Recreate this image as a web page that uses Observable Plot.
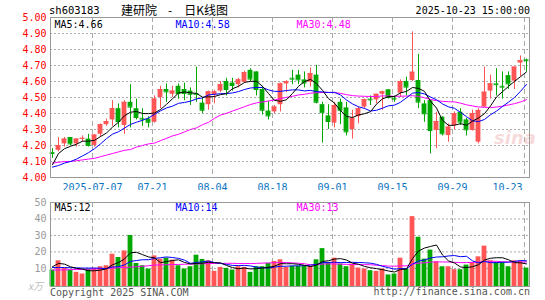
<!DOCTYPE html>
<html>
<head>
<meta charset="utf-8">
<script src="https://cdn.jsdelivr.net/npm/d3@7"></script>
<script src="https://cdn.jsdelivr.net/npm/@observablehq/plot@0.6"></script>
<style>
  body { margin: 0; background: #fff; }
  #wrap { position: relative; width: 545px; height: 300px; overflow: hidden; font-family: "DejaVu Sans Mono", monospace; }
  #main, #vol { position: absolute; left: 0; }
  #main { top: 0; }
  #vol { top: 190px; }
  .t { position: absolute; white-space: nowrap; font-size: 10px; line-height: 12px; }
  #name span { display: inline-block; }
</style>
</head>
<body>
<div id="wrap">
  <div id="main"></div>
  <div id="vol"></div>
  <div class="t" id="code" style="left:49px;top:4px;font-size:10.5px;color:#000;"></div>
  <div class="t" id="name" style="left:121px;top:3px;font-size:12px;line-height:14px;font-family:'Noto Sans CJK SC',sans-serif;color:#000;"></div>
  <div class="t" id="stamp" style="right:15px;top:5px;font-size:10px;color:#000;"></div>
  <div class="t" style="left:28px;top:280px;font-size:10px;color:#bbb;font-style:italic;font-family:'Noto Sans CJK SC',sans-serif;">x万</div>
  <div class="t" style="left:50px;top:287px;color:#555;">Copyright 2025 SINA.COM</div>
  <div class="t" style="right:15px;top:286px;color:#555;">http://finance.sina.com.cn</div>
  <div class="t" style="left:494px;top:128px;font-size:18px;line-height:20px;font-weight:bold;font-style:italic;color:rgba(225,120,120,0.28);font-family:'DejaVu Sans',sans-serif;">sina</div>
</div>
<script>
// ---------- data ----------
const stockCode = "sh603183";
const stockName = "建研院";
const chartKind = "日K线图";
const timeStamp = "2025-10-23 15:00:00";

const opens = [4.155,4.17,4.21,4.25,4.21,4.24,4.24,4.20,4.27,4.33,
4.36,4.43,4.325,4.47,4.43,4.37,4.365,4.345,4.50,4.55,
4.52,4.57,4.55,4.54,4.525,4.465,4.455,4.515,4.54,4.60,
4.59,4.58,4.595,4.67,4.66,4.55,4.415,4.41,4.455,4.585,
4.62,4.64,4.61,4.595,4.64,4.455,4.385,4.34,4.47,4.435,
4.30,4.38,4.44,4.49,4.485,4.52,4.548,4.495,4.527,4.60,
4.606,4.606,4.46,4.48,4.294,4.377,4.262,4.325,4.408,4.36,
4.294,4.221,4.44,4.54,4.585,4.57,4.637,4.602,4.715,4.735];

const highs = [4.18,4.25,4.25,4.25,4.24,4.26,4.27,4.27,4.335,4.365,
4.48,4.46,4.48,4.58,4.49,4.43,4.38,4.51,4.57,4.585,
4.57,4.585,4.59,4.56,4.69,4.50,4.54,4.545,4.60,4.62,
4.62,4.62,4.665,4.68,4.66,4.57,4.475,4.45,4.59,4.605,
4.67,4.67,4.66,4.685,4.70,4.47,4.455,4.47,4.49,4.47,
4.42,4.44,4.49,4.51,4.52,4.54,4.55,4.51,4.61,4.627,
4.91,4.77,4.48,4.48,4.408,4.38,4.335,4.41,4.43,4.37,
4.42,4.43,4.69,4.64,4.68,4.66,4.66,4.69,4.76,4.74];

const lows = [4.12,4.16,4.19,4.20,4.19,4.22,4.19,4.19,4.25,4.32,
4.32,4.31,4.27,4.31,4.36,4.32,4.31,4.34,4.43,4.47,
4.50,4.49,4.48,4.45,4.47,4.40,4.42,4.46,4.53,4.51,
4.54,4.56,4.59,4.60,4.51,4.39,4.36,4.40,4.41,4.53,
4.58,4.58,4.56,4.565,4.46,4.215,4.30,4.31,4.33,4.26,
4.24,4.335,4.43,4.45,4.46,4.42,4.49,4.47,4.50,4.51,
4.60,4.43,4.345,4.148,4.18,4.26,4.22,4.30,4.325,4.26,
4.29,4.21,4.44,4.49,4.51,4.49,4.55,4.55,4.63,4.66];

const closes = [4.15,4.20,4.24,4.21,4.24,4.245,4.20,4.265,4.33,4.35,
4.43,4.35,4.47,4.44,4.375,4.365,4.345,4.49,4.55,4.535,
4.54,4.525,4.525,4.52,4.52,4.42,4.535,4.535,4.58,4.55,
4.575,4.61,4.655,4.615,4.55,4.42,4.385,4.44,4.585,4.60,
4.615,4.61,4.59,4.65,4.47,4.405,4.35,4.45,4.42,4.285,
4.37,4.43,4.4875,4.485,4.52,4.535,4.50,4.49,4.60,4.565,
4.658,4.471,4.398,4.294,4.35,4.273,4.315,4.40,4.346,4.298,
4.40,4.419,4.533,4.585,4.58,4.565,4.585,4.69,4.73,4.73];

// volume, 万手
const volumes = [9,14.6,10,9,7.6,6.6,9.6,10,11,11.6,
18.6,16.6,20.6,30,13,11.6,9.6,17.6,15.6,16.2,
15,11.6,9.6,11,18,15.4,14.6,8.2,10.6,10,
9,11,10.6,7.6,11,11,13,14.2,15.2,10.6,
11.2,11.2,11.2,11.2,15.2,22,13.6,16.2,12.6,11,
12.6,10.2,9.6,8.6,8.2,9.6,6,6.6,16.2,9.6,
41.4,28.9,15.6,21.1,14,11,11,9.2,9.2,12,
13.6,17,23.5,14.6,13.6,13.6,11,14.6,14.2,10.2];

// moving-average values at the start of the window (history before the window)
const ma5Head = [4.08,4.15,4.18,4.195];
const ma10Head = [4.065,4.075,4.09,4.10,4.115,4.135,4.155,4.18,4.21];
const ma30Head = [4.09,4.095,4.10,4.10,4.105,4.11,4.115,4.12,4.13,4.14,4.15,4.16,4.17,4.175,4.19,4.20,4.21,4.215,4.23,4.245,4.26,4.27,4.285,4.30,4.31,4.33,4.345,4.37,4.39];
const vma5Head = [11,13,12.6,11];
const vma10Head = [10.5,10.5,10.5,10.4,10.3,10.2,10.2,10.2,10.1];
const vma30Head = [9,9,9.1,9.2,9.3,9.4,9.5,9.6,9.8,10,10.2,10.4,10.6,10.8,11,11.3,11.6,12,12.1,12.2,12.3,12.4,12.5,12.6,12.7,12.8,12.9,13,13];

// x tick labels (index of trading day)
const tickIdx = [7,17,27,37,47,57,67,79];
const tickLabels = ["2025-07-07","07-21","08-04","08-18","09-01","09-15","09-29","10-23"];
const priceTicks = [4.00,4.10,4.20,4.30,4.40,4.50,4.60,4.70,4.80,4.90,5.00];
const priceGrid = [4.10,4.20,4.30,4.40,4.50,4.60,4.70,4.80,4.90];
const volTicks = [10,20,30,40,50];
const volGrid = [10,20,30,40];

// ---------- build ----------
const RED = "#ff5555", GREEN = "#00a800";
const N = closes.length;
function ma(arr, n, head) {
  return arr.map((_, i) => i < n - 1 ? head[i] : d3.mean(arr.slice(i - n + 1, i + 1)));
}
const bars = d3.range(N).map(i => ({
  i, o: opens[i], h: highs[i], l: lows[i], c: closes[i], v: volumes[i],
  col: closes[i] >= opens[i] ? RED : GREEN
}));
const ma5 = ma(closes, 5, ma5Head), ma10 = ma(closes, 10, ma10Head), ma30 = ma(closes, 30, ma30Head);
const vma5 = ma(volumes, 5, vma5Head), vma10 = ma(volumes, 10, vma10Head), vma30 = ma(volumes, 30, vma30Head);
const trunc = (x, k) => Math.floor(x * Math.pow(10, k) + 1e-6) / Math.pow(10, k);

document.getElementById("code").textContent = stockCode;
document.getElementById("stamp").textContent = timeStamp;
const nameEl = document.getElementById("name");
[[stockName, "0"], ["-", "0 12px 0 11px"], [chartKind, "0"]].forEach(([t, m]) => {
  const s = document.createElement("span"); s.textContent = t; s.style.margin = m; nameEl.appendChild(s);
});

const xDomain = [-1/3, N - 0.5];
const ticks = tickIdx.map((d, k) => ({x: d - 1/3, label: tickLabels[k], last: k === tickIdx.length - 1}));
const lineData = (arr) => arr.map((v, i) => ({i, v}));

const common = {
  width: 545, marginLeft: 50, marginRight: 16,
  style: {fontFamily: "DejaVu Sans Mono, monospace", fontSize: "10px", background: "#fff", overflow: "visible"},
  x: {domain: xDomain, axis: null}
};

const main = Plot.plot({
  ...common,
  height: 190, marginTop: 17, marginBottom: 13,
  y: {domain: [4, 5], axis: null, label: null},
  marks: [
    Plot.ruleY(priceGrid, {stroke: "#aaa", strokeDasharray: "2,2"}),
    Plot.ruleX(ticks, {x: "x", stroke: "#aaa", strokeDasharray: "5,3"}),
    Plot.ruleX(bars, {x: "i", y1: "l", y2: "h", stroke: "col"}),
    Plot.rect(bars, {x1: d => d.i - 0.4, x2: d => d.i + 0.4, y1: "o", y2: "c", fill: "col"}),
    Plot.ruleY(bars, {x1: d => d.i - 0.4, x2: d => d.i + 0.4, y: "c", stroke: "col"}),
    Plot.line(lineData(ma30), {x: "i", y: "v", stroke: "#ff00ff", strokeWidth: 1}),
    Plot.line(lineData(ma10), {x: "i", y: "v", stroke: "#0000ff", strokeWidth: 1}),
    Plot.line(lineData(ma5), {x: "i", y: "v", stroke: "#000", strokeWidth: 1}),
    Plot.frame({stroke: "#999"}),
    Plot.axisY(priceTicks, {anchor: "left", label: null, tickSize: 0, tickPadding: 4, tickFormat: d3.format(".2f"), fill: "#f00", fontSize: 10}),
    Plot.text(ticks.filter(d => !d.last), {x: "x", text: "label", frameAnchor: "bottom", dy: 10, lineAnchor: "middle", fill: "#0a74c4"}),
    Plot.text(ticks.filter(d => d.last), {x: "x", text: "label", frameAnchor: "bottom", dy: 10, dx: -2, lineAnchor: "middle", textAnchor: "end", fill: "#0a74c4"}),
    Plot.text([`MA5:${trunc(ma5[N-1],2).toFixed(2)}`], {frameAnchor: "top-left", dx: 4, dy: 7, lineAnchor: "middle", fill: "#000"}),
    Plot.text([`MA10:${trunc(ma10[N-1],2).toFixed(2)}`], {frameAnchor: "top-left", dx: 125, dy: 7, lineAnchor: "middle", fill: "#0000ff"}),
    Plot.text([`MA30:${trunc(ma30[N-1],2).toFixed(2)}`], {frameAnchor: "top-left", dx: 246, dy: 7, lineAnchor: "middle", fill: "#ff00ff"})
  ]
});
document.getElementById("main").appendChild(main);

const volFloor = -1;
const vol = Plot.plot({
  ...common,
  height: 110, marginTop: 12, marginBottom: 14,
  y: {domain: [volFloor, 50], axis: null, label: null},
  marks: [
    Plot.ruleY(volGrid, {stroke: "#aaa", strokeDasharray: "2,2"}),
    Plot.ruleX(ticks, {x: "x", stroke: "#aaa", strokeDasharray: "5,3"}),
    Plot.rect(bars, {x1: d => d.i - 0.4, x2: d => d.i + 0.4, y1: volFloor, y2: "v", fill: "col"}),
    Plot.line(lineData(vma30), {x: "i", y: "v", stroke: "#ff00ff", strokeWidth: 1}),
    Plot.line(lineData(vma10), {x: "i", y: "v", stroke: "#0000ff", strokeWidth: 1}),
    Plot.line(lineData(vma5), {x: "i", y: "v", stroke: "#000", strokeWidth: 1}),
    Plot.frame({stroke: "#999"}),
    Plot.axisY(volTicks, {anchor: "left", label: null, tickSize: 0, tickPadding: 4, fill: "#999", fontSize: 10}),
    Plot.text([`MA5:${trunc(vma5[N-1],0)}`], {frameAnchor: "top-left", dx: 4, dy: 5, lineAnchor: "middle", fill: "#000"}),
    Plot.text([`MA10:${trunc(vma10[N-1],0)}`], {frameAnchor: "top-left", dx: 125, dy: 5, lineAnchor: "middle", fill: "#0000ff"}),
    Plot.text([`MA30:${trunc(vma30[N-1],0)}`], {frameAnchor: "top-left", dx: 246, dy: 5, lineAnchor: "middle", fill: "#ff00ff"})
  ]
});
document.getElementById("vol").appendChild(vol);
</script>
</body>
</html>
